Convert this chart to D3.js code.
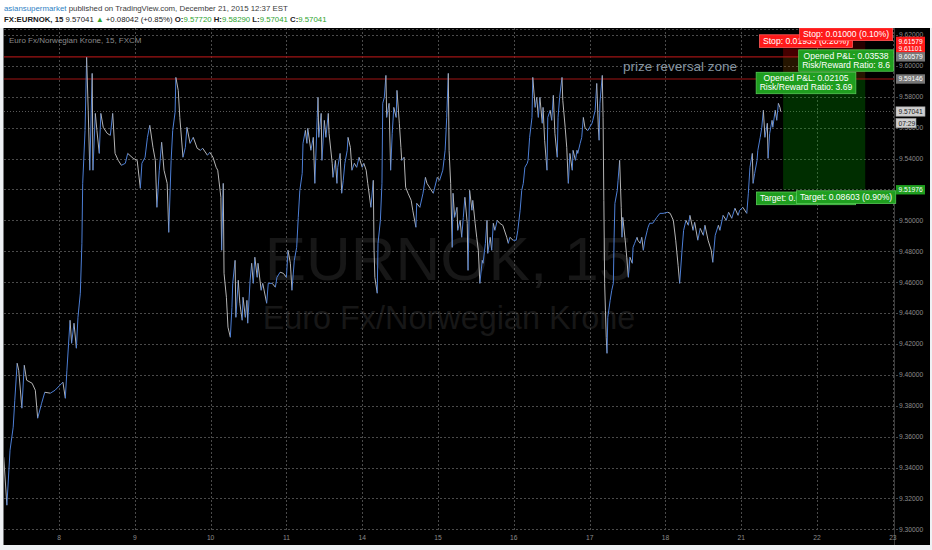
<!DOCTYPE html>
<html><head><meta charset="utf-8">
<script src="https://cdn.jsdelivr.net/npm/d3@7"></script>
<style>body{margin:0;background:#eef1f4;}svg{display:block}</style>
</head><body><svg id="c" width="932" height="550"></svg>
<script>
// ---------- data ----------
const dayLabels = ["8","9","10","11","14","15","16","17","18","21","22","23"];
const dayTickHours = [24,48,72,96,120,144,168,192,216,240,264,288];
const priceTicks = [9.30,9.32,9.34,9.36,9.38,9.40,9.42,9.44,9.46,9.48,9.50,9.52,9.54,9.56,9.58,9.60,9.62];
// [trading hour, price] of the 15-min EURNOK series
const series = [[6.5,9.3467],[7.5,9.3156],[8.5,9.3512],[9.5,9.3661],[10,9.3835],[10.75,9.4075],[11.25,9.4029],[12.25,9.3784],[13,9.4062],[13.75,9.3965],[15.5,9.3945],[16.5,9.39],[17.25,9.3719],[18.5,9.3816],[19.5,9.3887],[21.25,9.3881],[22.75,9.39],[24.25,9.3932],[25.25,9.3952],[26,9.3848],[26.5,9.4029],[27.5,9.4353],[28,9.4204],[28.75,9.4334],[29.5,9.4172],[30,9.4372],[30.75,9.4528],[31.25,9.4851],[31.5,9.5239],[32.25,9.5582],[32.75,9.6055],[33.25,9.5712],[33.75,9.5324],[34.5,9.5951],[34.75,9.5324],[35.5,9.5692],[36,9.5582],[36.75,9.5433],[37.25,9.5692],[38,9.5602],[39.25,9.5563],[40.25,9.555],[41,9.5692],[41.75,9.5433],[42.75,9.5388],[43.75,9.5356],[45,9.5369],[45.75,9.5433],[47.5,9.5401],[48.75,9.5388],[49.75,9.5207],[50.25,9.5369],[51.25,9.5408],[52,9.5537],[52.75,9.5615],[53.75,9.5472],[54.5,9.5388],[55,9.5084],[55.75,9.5324],[56.5,9.5505],[57.25,9.5324],[58.25,9.5239],[58.75,9.4922],[59.5,9.5388],[60,9.5582],[60.75,9.5699],[61,9.5925],[61.75,9.5841],[62.25,9.5666],[63.25,9.5408],[64,9.5472],[64.5,9.5602],[65.5,9.5498],[66.5,9.5537],[67.75,9.5466],[68.75,9.5453],[69.5,9.5466],[71,9.5421],[71.75,9.544],[72.75,9.5408],[73.75,9.5343],[74.25,9.5324],[75.25,9.5149],[75.5,9.4806],[76,9.5239],[76.25,9.4657],[77,9.4502],[77.5,9.4308],[78.25,9.4243],[78.75,9.4437],[79,9.4592],[79.75,9.4741],[80,9.4372],[80.75,9.4612],[81.25,9.4463],[82,9.4353],[82.25,9.4502],[83,9.4372],[83.5,9.4482],[83.75,9.4334],[84.5,9.4612],[85,9.4722],[85.5,9.4592],[86,9.4761],[86.75,9.4631],[87,9.4722],[88,9.4547],[88.5,9.4592],[89.75,9.4463],[90.25,9.4592],[91.5,9.4592],[92.5,9.4567],[93,9.4631],[94,9.4664],[95,9.4657],[96,9.4631],[96.5,9.4806],[97.25,9.4722],[97.75,9.4547],[98.5,9.4741],[99.25,9.4825],[99.75,9.5019],[100.25,9.5194],[101,9.5304],[101.25,9.5498],[102,9.5582],[102.5,9.5498],[102.75,9.5595],[103.75,9.5453],[104.5,9.5537],[105,9.5239],[105.75,9.5666],[106,9.5796],[106.25,9.5537],[107,9.5692],[107.25,9.5388],[108,9.5647],[108.5,9.5537],[109.25,9.5692],[109.5,9.5563],[110.5,9.5369],[110.75,9.5278],[111.5,9.5388],[112,9.5239],[112.25,9.5343],[113,9.5433],[113.5,9.5175],[114,9.5259],[114.5,9.5369],[115.25,9.5453],[115.5,9.5537],[116.25,9.5472],[116.75,9.5324],[117.5,9.5369],[118.25,9.5343],[119,9.5408],[120,9.5343],[120.5,9.5369],[121.25,9.5324],[121.75,9.5239],[122.75,9.5084],[123.5,9.5259],[123.75,9.4806],[124,9.4631],[124.75,9.4528],[125,9.4851],[125.75,9.5],[126.25,9.5239],[126.5,9.5757],[127,9.5796],[127.5,9.5938],[127.75,9.5666],[128.5,9.5757],[129,9.5324],[129.5,9.5563],[130,9.5731],[130.75,9.5666],[131,9.5841],[131.75,9.5628],[132.25,9.5472],[132.5,9.5388],[133.25,9.5408],[133.75,9.5214],[134.5,9.5175],[135.5,9.5129],[136,9.5065],[137,9.4955],[137.25,9.511],[138.25,9.5084],[139.25,9.5175],[140,9.5278],[140.5,9.5239],[141.5,9.5207],[142.5,9.5175],[143.75,9.5278],[144.5,9.5259],[145.5,9.5324],[146.25,9.5453],[146.75,9.5666],[147.25,9.5951],[147.5,9.5453],[148,9.5239],[148.5,9.4825],[148.75,9.5175],[149.25,9.5019],[150,9.5084],[150.25,9.4935],[151,9.5],[151.5,9.489],[152,9.5019],[152.5,9.5149],[153.25,9.4981],[153.5,9.4676],[154,9.5194],[154.75,9.5065],[155,9.5129],[155.75,9.4981],[156.25,9.489],[156.75,9.4806],[157.25,9.4592],[158,9.4741],[158.25,9.4722],[159,9.4851],[159.5,9.5],[159.75,9.4786],[160.5,9.489],[161,9.4806],[161.5,9.4981],[162,9.4935],[162.75,9.5],[163.5,9.4981],[164.5,9.4968],[165.75,9.489],[166.25,9.4851],[166.75,9.489],[167.75,9.4871],[168.75,9.4871],[169.25,9.4935],[170,9.5065],[170.5,9.5194],[171,9.5239],[171.5,9.5343],[172.25,9.5369],[172.5,9.5388],[173,9.5537],[173.75,9.5666],[174,9.5925],[174.75,9.5731],[175.25,9.5796],[175.75,9.5666],[176.25,9.5796],[177,9.5628],[177.25,9.5731],[177.75,9.5518],[178.5,9.5324],[178.75,9.5666],[179.5,9.5712],[180,9.5647],[180.5,9.5809],[181,9.5563],[181.75,9.5408],[182,9.5666],[182.5,9.5796],[183.25,9.5925],[183.5,9.5776],[184.25,9.5602],[184.75,9.5472],[185.25,9.5239],[185.75,9.5433],[186.5,9.5324],[186.75,9.5453],[187.5,9.5388],[188,9.5453],[188.25,9.5433],[189,9.5498],[189.5,9.5537],[190,9.5666],[190.5,9.5602],[191.25,9.5582],[191.5,9.5582],[192,9.5602],[192.75,9.5628],[193,9.5647],[193.75,9.5712],[194.25,9.5886],[194.75,9.5602],[195,9.5518],[195.25,9.5757],[196,9.5938],[196.25,9.5666],[196.5,9.5129],[196.75,9.4592],[197,9.4418],[197.25,9.4243],[197.5,9.4139],[197.75,9.4372],[198.5,9.4482],[199,9.4547],[199.5,9.4592],[199.75,9.489],[200,9.511],[200.75,9.5194],[201,9.5259],[201.5,9.5388],[202,9.5084],[202.25,9.489],[202.5,9.5019],[203.25,9.4871],[203.75,9.4761],[204.25,9.4631],[204.75,9.4761],[205.5,9.4722],[205.75,9.4825],[206.25,9.4851],[207,9.489],[207.25,9.4871],[208,9.4851],[208.5,9.489],[209,9.4806],[209.5,9.4871],[210.25,9.4935],[210.5,9.4955],[211,9.4981],[212,9.4981],[213.25,9.5019],[214.25,9.5045],[215.25,9.5045],[216.75,9.5052],[217.5,9.5045],[218.5,9.5],[219.25,9.4871],[220,9.4709],[220.5,9.4592],[221.25,9.4806],[221.75,9.4935],[222.5,9.5],[223.25,9.4968],[223.75,9.5032],[224.75,9.4935],[225.25,9.4987],[226.25,9.4871],[227,9.4948],[228,9.4903],[228.5,9.4968],[229.5,9.4871],[230.5,9.4806],[231,9.4728],[231.75,9.4903],[232.75,9.4968],[233.25,9.4935],[234.25,9.5032],[235.25,9.5],[236,9.5052],[237,9.5013],[238,9.5078],[239,9.5032],[239.5,9.5065],[240.5,9.5084],[241.75,9.5045],[242.25,9.5175],[242.75,9.5343],[243.5,9.5433],[243.75,9.5239],[244.25,9.5304],[245,9.5388],[245.25,9.5453],[246,9.5537],[246.5,9.5602],[247,9.5712],[247.5,9.5537],[248.25,9.5628],[248.5,9.5401],[249,9.5563],[249.75,9.5647],[250,9.5602],[250.75,9.5712],[251.25,9.5647],[251.75,9.5757],[252.25,9.5731],[252.5,9.57041]];
const zoneLevels = [9.60579, 9.59146];
const lastPrice = 9.57041;
const toolHours = [253.25, 279.25];
const toolA = {entry:9.60579, stop:9.61579, target:9.51976, labelHour:273.2,
  stopText:"Stop: 0.01000 (0.10%)", pnl:["Opened P&L: 0.03538","Risk/Reward Ratio: 8.6"], targetText:"Target: 0.08603 (0.90%)"};
const toolB = {entry:9.59146, stop:9.61101, target:9.52013, labelHour:260.5,
  stopText:"Stop: 0.01933 (0.20%)", pnl:["Opened P&L: 0.02105","Risk/Reward Ratio: 3.69"], targetText:"Target: 0.07133 (0.74%)"};
const headerUser = "asiansupermarket";
const headerRest = " published on TradingView.com, December 21, 2015 12:37 EST";
const ohlc = {sym:"FX:EURNOK, 15", last:"9.57041", chg:"+0.08042 (+0.85%)", O:"9.57720", H:"9.58290", L:"9.57041", C:"9.57041"};
const countdown = "07:29";

// ---------- layout ----------
const FONT = "'Liberation Sans', Arial, sans-serif";
const pane = {left:3.5, right:930, top:28, bottom:545};
const plot = {left:4, right:894, top:28, bottom:529.3};
const svg = d3.select("#c").attr("font-family", FONT);
const x = d3.scaleLinear().domain([5.32, 288.36]).range([0, 894]);
const y = d3.scaleLinear().domain([9.30, 9.62]).range([529.3, 34.9]);
const fmt = d3.format(".5f");

svg.append("rect").attr("width",932).attr("height",550).attr("fill","#eef1f4");
svg.append("rect").attr("width",932).attr("height",28).attr("fill","#ffffff");
svg.append("rect").attr("x",pane.left).attr("y",pane.top).attr("width",pane.right-pane.left).attr("height",pane.bottom-pane.top).attr("fill","#000");

const defs = svg.append("defs");
defs.append("clipPath").attr("id","plotclip").append("rect").attr("x",plot.left).attr("y",plot.top).attr("width",plot.right-plot.left).attr("height",plot.bottom-plot.top);
defs.append("clipPath").attr("id","paneclip").append("rect").attr("x",pane.left).attr("y",pane.top).attr("width",pane.right-pane.left).attr("height",pane.bottom-pane.top);

// header
function fit(sel, target){ const w = sel.node().getComputedTextLength(); sel.attr("font-size", parseFloat(sel.attr("font-size"))*target/w); }
const h1 = svg.append("text").attr("x",4).attr("y",10.5).attr("font-size",10).attr("fill","#3a3a3a");
h1.append("tspan").attr("fill","#2f7fc4").text(headerUser);
h1.append("tspan").text(headerRest);
fit(h1, 284);
const h2 = svg.append("text").attr("x",4).attr("y",22.3).attr("font-size",10).attr("fill","#222");
const G = "#2ea32e";
h2.append("tspan").attr("font-weight","bold").text(ohlc.sym + " ");
h2.append("tspan").text(ohlc.last + " ");
h2.append("tspan").attr("fill",G).text("▲");
h2.append("tspan").text(" " + ohlc.chg + " ");
["O","H","L","C"].forEach((k,i)=>{
  h2.append("tspan").attr("font-weight","bold").text((i?" ":"") + k + ":");
  h2.append("tspan").attr("fill",G).text(ohlc[k]);
});
fit(h2, 323);

// watermark
const wm = svg.append("g").attr("fill","#171717").attr("text-anchor","middle");
wm.append("text").attr("x",(plot.left+plot.right)/2).attr("y",280).attr("font-size",62).text("EURNOK, 15");
wm.append("text").attr("x",(plot.left+plot.right)/2).attr("y",329).attr("font-size",32.4).text("Euro Fx/Norwegian Krone");

// grid
const grid = svg.append("g").attr("stroke","#4a4a4a").attr("stroke-width",1).attr("stroke-dasharray","2,2").attr("shape-rendering","crispEdges");
grid.selectAll(".hg").data(priceTicks).join("line")
  .attr("x1",plot.left).attr("x2",plot.right+4).attr("y1",d=>Math.round(y(d))+0.5).attr("y2",d=>Math.round(y(d))+0.5);
grid.selectAll(".vg").data(dayTickHours).join("line")
  .attr("y1",plot.top).attr("y2",plot.bottom+3).attr("x1",d=>Math.round(x(d))+0.5).attr("x2",d=>Math.round(x(d))+0.5);
grid.append("line").attr("x1",plot.left).attr("x2",plot.right).attr("y1",29.5).attr("y2",29.5);
svg.append("line").attr("x1",plot.right+0.5).attr("x2",plot.right+0.5).attr("y1",plot.top).attr("y2",pane.bottom).attr("stroke","#3a3a3a");
// current price dotted line
svg.append("line").attr("x1",plot.left).attr("x2",plot.right).attr("y1",y(lastPrice)).attr("y2",y(lastPrice))
  .attr("stroke","#5a5a5a").attr("stroke-dasharray","1,2");

// subtitle
svg.append("text").attr("x",9).attr("y",43.4).attr("font-size",8).attr("fill","#8a8a8a").text("Euro Fx/Norwegian Krone, 15, FXCM");

// position tool zones
const zones = svg.append("g").attr("clip-path","url(#paneclip)");
[toolA, toolB].forEach(t=>{
  zones.append("rect").attr("x",x(toolHours[0])).attr("width",x(toolHours[1])-x(toolHours[0]))
    .attr("y",y(t.stop)).attr("height",y(t.entry)-y(t.stop)).attr("fill","rgba(255,0,0,0.15)");
  zones.append("rect").attr("x",x(toolHours[0])).attr("width",x(toolHours[1])-x(toolHours[0]))
    .attr("y",y(t.entry)).attr("height",y(t.target)-y(t.entry)).attr("fill","rgba(0,190,0,0.13)");
});

// zone lines
svg.append("g").selectAll("line").data(zoneLevels).join("line")
  .attr("x1",plot.left).attr("x2",plot.right).attr("y1",d=>y(d)).attr("y2",d=>y(d))
  .attr("stroke","#a01414").attr("stroke-width",1.1);
svg.append("text").attr("x",623).attr("y",71).attr("font-size",13.5).attr("fill","#8795a1").text("prize reversal zone");

// price series
const seg = svg.append("g").attr("clip-path","url(#plotclip)").attr("stroke-width",1).attr("fill","none");
seg.selectAll("line").data(d3.pairs(series)).join("line")
  .attr("x1",d=>x(d[0][0])).attr("y1",d=>y(d[0][1])).attr("x2",d=>x(d[1][0])).attr("y2",d=>y(d[1][1]))
  .attr("stroke",d=>d[1][1]>=d[0][1] ? "#4d7fd6" : "#b4b4b4");

// tool labels
const labels = svg.append("g").attr("clip-path","url(#paneclip)");
function tag(lines, cx, top, fill, stroke){
  const g = labels.append("g");
  const fs = 8.6, lh = 8.7, padX = 3.5, padY = 2;
  const texts = lines.map((t,i)=> g.append("text").attr("x",cx).attr("y",top+padY+(i+1)*lh-1.6)
    .attr("text-anchor","middle").attr("font-size",fs).attr("fill","#fff").text(t));
  const w = d3.max(texts, t=>t.node().getComputedTextLength());
  g.insert("rect","text").attr("x",cx-w/2-padX).attr("y",top).attr("width",w+2*padX)
    .attr("height",lines.length*lh+2*padY).attr("fill",fill).attr("stroke",stroke).attr("stroke-width",0.8);
}
const RED="#ff1a1a", REDS="#ff5a5a", GRN="#1f9e1f", GRNS="#56c856";
tag([toolB.targetText], x(toolB.labelHour), y(toolB.target)+2.8, GRN, GRNS);
tag([toolA.targetText], x(toolA.labelHour), y(toolA.target)+1, GRN, GRNS);
tag(toolB.pnl, x(toolB.labelHour), y(toolB.entry)-6.7, GRN, GRNS);
tag(toolA.pnl, x(toolA.labelHour), y(toolA.entry)-7, GRN, GRNS);
tag([toolB.stopText], x(toolB.labelHour), y(toolB.stop)-14, RED, REDS);
tag([toolA.stopText], x(toolA.labelHour), y(toolA.stop)-13.5, RED, REDS);

// axes labels
const ax = svg.append("g").attr("font-size",6.7).attr("fill","#8c8c8c");
ax.selectAll(".yl").data(priceTicks).join("text").attr("x",899).attr("y",d=>y(d)+2.4).text(d=>fmt(d));
ax.selectAll(".xl").data(dayTickHours).join("text").attr("x",d=>x(d)).attr("y",540).attr("text-anchor","middle").text((d,i)=>dayLabels[i]);

// price boxes on right axis
function pbox(v, text, fill, tc, stroke, w){
  const cy = y(v);
  svg.append("rect").attr("x",896).attr("y",cy-4.7).attr("width",w||29).attr("height",9.4).attr("fill",fill).attr("stroke",stroke||"none").attr("stroke-width",0.6);
  svg.append("text").attr("x",898.5).attr("y",cy+2.4).attr("font-size",6.7).attr("fill",tc).text(text);
}
pbox(toolB.stop, fmt(toolB.stop), "#ff1a1a", "#fff");
pbox(toolA.stop, fmt(toolA.stop), "#ff1a1a", "#fff");
pbox(toolA.entry, fmt(toolA.entry), "#777", "#fff");
pbox(toolB.entry, fmt(toolB.entry), "#777", "#fff");
pbox(lastPrice, fmt(lastPrice), "#cfcfcf", "#1e1e1e", "#999");
pbox(lastPrice-0.0075, countdown, "#cfcfcf", "#1e1e1e", "#999", 20);
pbox(toolA.target, fmt(toolA.target), "#1f9e1f", "#fff");
</script></body></html>
